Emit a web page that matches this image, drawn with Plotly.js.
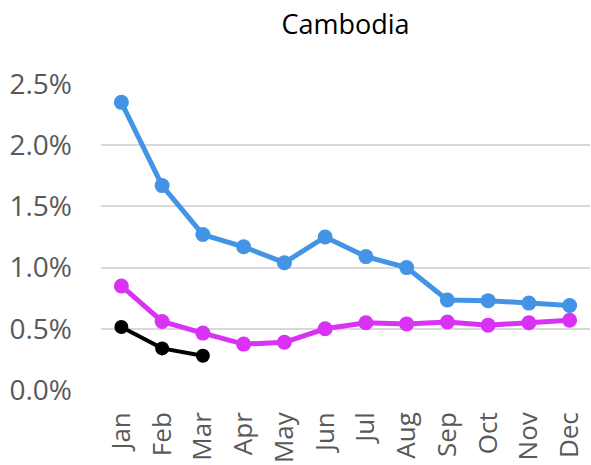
<!DOCTYPE html>
<html>
<head>
<meta charset="utf-8">
<script src="https://cdn.plot.ly/plotly-3.0.1.min.js"></script>
<style>html,body{margin:0;padding:0;background:#fff}#chart{width:591px;height:465px}</style>
</head>
<body>
<div id="chart"></div>
<script>
const months = ["Jan","Feb","Mar","Apr","May","Jun","Jul","Aug","Sep","Oct","Nov","Dec"];
const blueValues = [2.35, 1.67, 1.27, 1.17, 1.04, 1.25, 1.09, 1.00, 0.735, 0.73, 0.71, 0.69];
const magentaValues = [0.85, 0.56, 0.465, 0.375, 0.39, 0.50, 0.55, 0.54, 0.555, 0.53, 0.55, 0.57];
const blackMonths = ["Jan","Feb","Mar"];
const blackValues = [0.515, 0.34, 0.28];
const yTicks = [0, 0.5, 1.0, 1.5, 2.0, 2.5];
const yTickLabels = ["0.0%","0.5%","1.0%","1.5%","2.0%","2.5%"];

const traces = [
  {x: months, y: blueValues, mode: "lines+markers", line: {color: "#4394E5", width: 5}, marker: {color: "#4394E5", size: 15}},
  {x: months, y: magentaValues, mode: "lines+markers", line: {color: "#D932F5", width: 5}, marker: {color: "#D932F5", size: 15}},
  {x: blackMonths, y: blackValues, mode: "lines+markers", line: {color: "#000000", width: 4}, marker: {color: "#000000", size: 14}}
];
const layout = {
  width: 591, height: 465,
  margin: {l: 101, r: 1, t: 84, b: 75},
  paper_bgcolor: "#fff", plot_bgcolor: "#fff",
  showlegend: false,
  font: {family: "Open Sans, sans-serif", color: "#595959"},
  title: {text: "Cambodia", font: {size: 27, color: "#000", family: "Open Sans, sans-serif"}, x: 0.5, xref: "paper", y: 0.948, yref: "container", yanchor: "middle"},
  xaxis: {type: "category", categoryarray: months, categoryorder: "array", range: [-0.5, 11.5], tickangle: -90, tickfont: {size: 26, color: "#595959"}, showgrid: false, zeroline: false, showline: false, ticks: "", ticklabelstandoff: 16, fixedrange: true},
  yaxis: {range: [0, 2.5], tickvals: yTicks, ticktext: yTickLabels, tickfont: {size: 28, color: "#595959"}, showgrid: true, gridcolor: "#D9D9D9", gridwidth: 2, zeroline: false, showline: false, ticks: "", ticklabelstandoff: 28, fixedrange: true}
};
Plotly.newPlot("chart", traces, layout, {displayModeBar: false, staticPlot: true});
</script>
</body>
</html>
